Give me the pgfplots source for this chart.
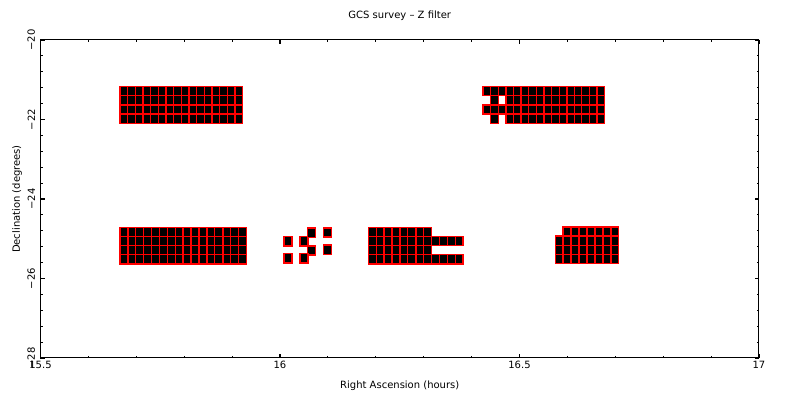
\documentclass[border=0pt]{standalone}
\usepackage{pgfplots}
\pgfplotsset{compat=1.18}
\usepackage{fontspec}
\setmainfont{DejaVu Sans}
\pgfdeclareplotmark{cellT}{\pgfpathrectangle{\pgfqpoint{-1.915pt}{-2.285pt}}{\pgfqpoint{3.83pt}{4.57pt}}\pgfusepathqfillstroke}
\pgfdeclareplotmark{cellB}{\pgfpathrectangle{\pgfqpoint{-1.975pt}{-2.3pt}}{\pgfqpoint{3.95pt}{4.6pt}}\pgfusepathqfillstroke}
\begin{document}
\begin{tikzpicture}
\useasboundingbox (0pt,0pt) rectangle (400pt,200pt);
\begin{axis}[
  at={(20.25pt,21pt)}, anchor=south west,
  scale only axis, width=359.25pt, height=159pt,
  xmin=15.5, xmax=17, ymin=-28, ymax=-20,
  xtick={15.5,16,16.5,17}, xticklabels={15.5,16,16.5,17},
  ytick={-28,-26,-24,-22,-20}, yticklabels={−28,−26,−24,−22,−20},
  minor x tick num=4, minor y tick num=4,
  tick align=inside,
  major tick length=2.2pt, minor tick length=1.2pt,
  every major tick/.style={black, line width=0.8pt},
  every minor tick/.style={black, line width=0.5pt},
  axis line style={black, line width=0.5pt},
  font=\fontsize{5}{6}\selectfont,
  ticklabel style={font=\fontsize{5}{6}\selectfont},
  xticklabel style={anchor=north, inner sep=1.5pt},
  yticklabel style={rotate=90, anchor=south, inner sep=2.5pt},
  title={GCS survey -- Z filter},
  title style={at={(axis description cs:0.5,1.038)}, anchor=center, font=\fontsize{5}{6}\selectfont},
  xlabel={Right Ascension (hours)},
  xlabel style={at={(axis description cs:0.5,-0.088)}, anchor=center},
  ylabel={Declination (degrees)},
  ylabel style={at={(axis description cs:-0.0327,0.5)}, anchor=center},
]
% top-left block
\addplot[only marks, mark=cellT, mark options={draw=red, fill=black, line width=0.65pt}] coordinates {
(15.674,-21.29) (15.690,-21.29) (15.706,-21.29) (15.722,-21.29) (15.738,-21.29) (15.754,-21.29) (15.770,-21.29) (15.786,-21.29) (15.802,-21.29) (15.818,-21.29) (15.834,-21.29) (15.850,-21.29) (15.866,-21.29) (15.882,-21.29) (15.898,-21.29) (15.914,-21.29)
(15.674,-21.52) (15.690,-21.52) (15.706,-21.52) (15.722,-21.52) (15.738,-21.52) (15.754,-21.52) (15.770,-21.52) (15.786,-21.52) (15.802,-21.52) (15.818,-21.52) (15.834,-21.52) (15.850,-21.52) (15.866,-21.52) (15.882,-21.52) (15.898,-21.52) (15.914,-21.52)
(15.674,-21.75) (15.690,-21.75) (15.706,-21.75) (15.722,-21.75) (15.738,-21.75) (15.754,-21.75) (15.770,-21.75) (15.786,-21.75) (15.802,-21.75) (15.818,-21.75) (15.834,-21.75) (15.850,-21.75) (15.866,-21.75) (15.882,-21.75) (15.898,-21.75) (15.914,-21.75)
(15.674,-21.98) (15.690,-21.98) (15.706,-21.98) (15.722,-21.98) (15.738,-21.98) (15.754,-21.98) (15.770,-21.98) (15.786,-21.98) (15.802,-21.98) (15.818,-21.98) (15.834,-21.98) (15.850,-21.98) (15.866,-21.98) (15.882,-21.98) (15.898,-21.98) (15.914,-21.98)
};
% top-right block
\addplot[only marks, mark=cellT, mark options={draw=red, fill=black, line width=0.65pt}] coordinates {
(16.432,-21.29) (16.448,-21.29) (16.464,-21.29) (16.480,-21.29) (16.495,-21.29) (16.511,-21.29) (16.527,-21.29) (16.543,-21.29) (16.559,-21.29) (16.575,-21.29) (16.591,-21.29) (16.607,-21.29) (16.623,-21.29) (16.638,-21.29) (16.654,-21.29) (16.670,-21.29)
(16.448,-21.52) (16.480,-21.52) (16.495,-21.52) (16.511,-21.52) (16.527,-21.52) (16.543,-21.52) (16.559,-21.52) (16.575,-21.52) (16.591,-21.52) (16.607,-21.52) (16.623,-21.52) (16.638,-21.52) (16.654,-21.52) (16.670,-21.52)
(16.432,-21.75) (16.448,-21.75) (16.464,-21.75) (16.480,-21.75) (16.495,-21.75) (16.511,-21.75) (16.527,-21.75) (16.543,-21.75) (16.559,-21.75) (16.575,-21.75) (16.591,-21.75) (16.607,-21.75) (16.623,-21.75) (16.638,-21.75) (16.654,-21.75) (16.670,-21.75)
(16.448,-21.98) (16.480,-21.98) (16.495,-21.98) (16.511,-21.98) (16.527,-21.98) (16.543,-21.98) (16.559,-21.98) (16.575,-21.98) (16.591,-21.98) (16.607,-21.98) (16.623,-21.98) (16.638,-21.98) (16.654,-21.98) (16.670,-21.98)
};
% bottom-left block
\addplot[only marks, mark=cellB, mark options={draw=red, fill=black, line width=0.65pt}] coordinates {
(15.674,-24.83) (15.691,-24.83) (15.707,-24.83) (15.724,-24.83) (15.740,-24.83) (15.757,-24.83) (15.773,-24.83) (15.790,-24.83) (15.806,-24.83) (15.823,-24.83) (15.839,-24.83) (15.856,-24.83) (15.872,-24.83) (15.889,-24.83) (15.905,-24.83) (15.922,-24.83)
(15.674,-25.06) (15.691,-25.06) (15.707,-25.06) (15.724,-25.06) (15.740,-25.06) (15.757,-25.06) (15.773,-25.06) (15.790,-25.06) (15.806,-25.06) (15.823,-25.06) (15.839,-25.06) (15.856,-25.06) (15.872,-25.06) (15.889,-25.06) (15.905,-25.06) (15.922,-25.06)
(15.674,-25.29) (15.691,-25.29) (15.707,-25.29) (15.724,-25.29) (15.740,-25.29) (15.757,-25.29) (15.773,-25.29) (15.790,-25.29) (15.806,-25.29) (15.823,-25.29) (15.839,-25.29) (15.856,-25.29) (15.872,-25.29) (15.889,-25.29) (15.905,-25.29) (15.922,-25.29)
(15.674,-25.52) (15.691,-25.52) (15.707,-25.52) (15.724,-25.52) (15.740,-25.52) (15.757,-25.52) (15.773,-25.52) (15.790,-25.52) (15.806,-25.52) (15.823,-25.52) (15.839,-25.52) (15.856,-25.52) (15.872,-25.52) (15.889,-25.52) (15.905,-25.52) (15.922,-25.52)
};
% scattered pointings
\addplot[only marks, mark=cellB, mark options={draw=red, fill=black, line width=0.8pt}] coordinates {
(16.017,-25.06) (16.050,-25.06) (16.066,-24.85) (16.099,-24.84) (16.066,-25.30) (16.099,-25.28) (16.017,-25.49) (16.050,-25.49)
};
% bottom-centre block
\addplot[only marks, mark=cellB, mark options={draw=red, fill=black, line width=0.65pt}] coordinates {
(16.193,-24.83) (16.209,-24.83) (16.226,-24.83) (16.242,-24.83) (16.259,-24.83) (16.275,-24.83) (16.292,-24.83) (16.308,-24.83)
(16.193,-25.06) (16.209,-25.06) (16.226,-25.06) (16.242,-25.06) (16.259,-25.06) (16.275,-25.06) (16.292,-25.06) (16.308,-25.06) (16.325,-25.06) (16.341,-25.06) (16.358,-25.06) (16.374,-25.06)
(16.193,-25.29) (16.209,-25.29) (16.226,-25.29) (16.242,-25.29) (16.259,-25.29) (16.275,-25.29) (16.292,-25.29) (16.308,-25.29)
(16.193,-25.52) (16.209,-25.52) (16.226,-25.52) (16.242,-25.52) (16.259,-25.52) (16.275,-25.52) (16.292,-25.52) (16.308,-25.52) (16.325,-25.52) (16.341,-25.52) (16.358,-25.52) (16.374,-25.52)
};
% bottom-right block
\addplot[only marks, mark=cellB, mark options={draw=red, fill=black, line width=0.65pt}] coordinates {
(16.599,-24.82) (16.616,-24.82) (16.633,-24.82) (16.649,-24.82) (16.666,-24.82) (16.683,-24.82) (16.699,-24.82)
(16.583,-25.05) (16.599,-25.05) (16.616,-25.05) (16.633,-25.05) (16.649,-25.05) (16.666,-25.05) (16.683,-25.05) (16.699,-25.05)
(16.583,-25.28) (16.599,-25.28) (16.616,-25.28) (16.633,-25.28) (16.649,-25.28) (16.666,-25.28) (16.683,-25.28) (16.699,-25.28)
(16.583,-25.51) (16.599,-25.51) (16.616,-25.51) (16.633,-25.51) (16.649,-25.51) (16.666,-25.51) (16.683,-25.51) (16.699,-25.51)
};
\end{axis}
\end{tikzpicture}
\end{document}
